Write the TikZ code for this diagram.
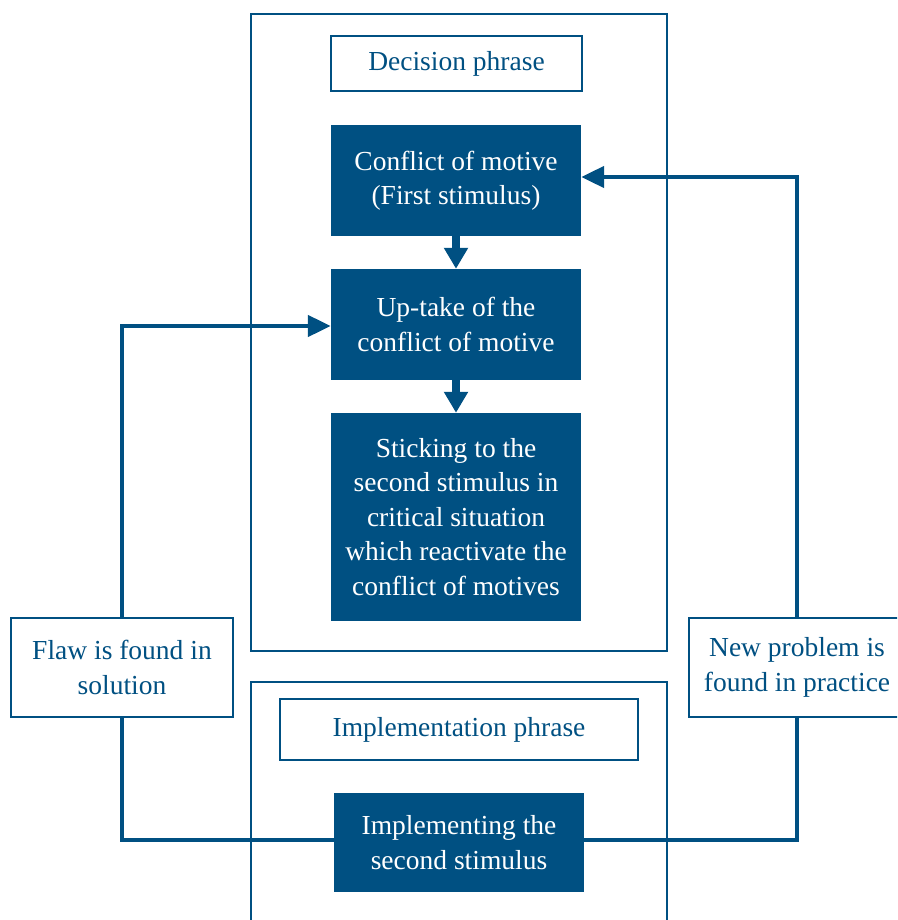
\documentclass[tikz,border=0pt]{standalone}
\usepackage{fontspec}
\setmainfont{Liberation Serif}
\usetikzlibrary{arrows.meta}
\definecolor{db}{RGB}{0,80,130}
\begin{document}
\begin{tikzpicture}[x=1pt,y=-1pt,
  frame/.style={draw=db,line width=2pt},
  lbl/.style={draw=db,line width=2pt,fill=white,text=db,font=\fontsize{27.5}{34.5}\selectfont,align=center,inner sep=0pt},
  dark/.style={fill=db,text=white,font=\fontsize{27.5}{34.5}\selectfont,align=center,inner sep=0pt},
  conn/.style={draw=db,line width=4.5pt},
  sidearrow/.style={conn,-{Triangle[width=21pt,length=23pt]}},
  downarrow/.style={draw=db,line width=8pt,-{Triangle[width=23pt,length=21pt]}}]
\useasboundingbox (0,0) rectangle (897,920);
\clip (0,0) rectangle (897,920);
% frames
\draw[frame] (251,14) rectangle (667,651);
\draw[frame] (251,682) rectangle (667,940);
% nodes
\node[lbl,minimum width=251pt,minimum height=55pt] (dec) at (456.5,63.5) {Decision phrase};
\node[dark,minimum width=250pt,minimum height=111pt] (b1) at (456,180.5) {Conflict of motive\\(First stimulus)};
\node[dark,minimum width=250pt,minimum height=111pt] (b2) at (456,324.5) {Up-take of the\\conflict of motive};
\node[dark,minimum width=250pt,minimum height=208pt] (b3) at (456,517) {Sticking to the\\second stimulus in\\critical situation\\which reactivate the\\conflict of motives};
\node[lbl,minimum width=358pt,minimum height=61pt] (imp) at (459,729.5) {Implementation phrase};
\node[dark,minimum width=250pt,minimum height=99pt] (b4) at (459,842.5) {Implementing the\\second stimulus};
\node[lbl,minimum width=222pt,minimum height=99pt] (flaw) at (122,667.5) {Flaw is found in\\solution};
\node[lbl,minimum width=216pt,minimum height=99pt] (np) at (797,667.5) {New problem is\\found in practice};
% connectors
\draw[downarrow] (b1.south) -- (b2.north);
\draw[downarrow] (b2.south) -- (b3.north);
\draw[sidearrow] (flaw.north) |- ([yshift=-1.5pt]b2.west);
\draw[sidearrow] (np.north) |- ([yshift=3.5pt]b1.east);
\draw[conn] (flaw.south) |- ([yshift=2.5pt]b4.west);
\draw[conn] ([yshift=2.5pt]b4.east) -| (np.south);
\end{tikzpicture}
\end{document}
